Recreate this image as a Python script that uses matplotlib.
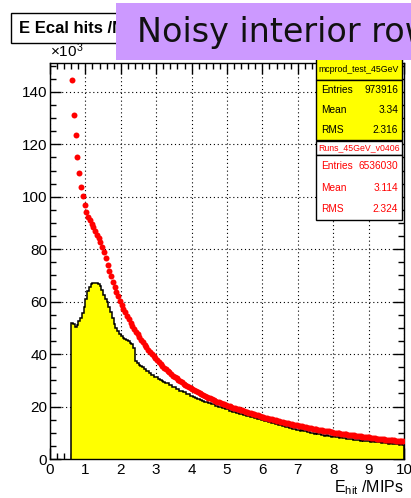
import numpy as np
import matplotlib.pyplot as plt
from matplotlib.patches import Rectangle
from matplotlib.ticker import MultipleLocator

plt.rcParams['font.family'] = ['Liberation Sans', 'DejaVu Sans']
plt.rcParams['mathtext.fontset'] = 'custom'
plt.rcParams['mathtext.rm'] = 'Liberation Sans'
plt.rcParams['mathtext.it'] = 'Liberation Sans:italic'

# hit energy histogram, 0.05 MIP bins from 0.6 to 10 MIPs, counts in 10^3
bin_lo = 0.6
bin_width = 0.05

# mcprod_test_45GeV
mc_counts = [
    51.9, 51.6, 50.5, 51.2, 52.6, 53.6, 55.7, 57.8, 61.0, 64.0,
    65.5, 66.6, 67.2, 67.1, 67.0, 66.6, 65.8, 64.3, 62.6, 61.2,
    59.8, 58.0, 56.2, 53.8, 51.4, 50.0, 48.8, 47.8, 46.9, 46.2,
    45.8, 45.3, 45.0, 44.4, 44.0, 42.2, 37.4, 36.6, 36.0, 35.4,
    35.1, 34.3, 33.7, 33.4, 32.7, 32.1, 31.9, 31.2, 31.1, 30.4,
    30.2, 29.7, 29.5, 28.9, 28.9, 28.2, 28.1, 27.5, 27.3, 26.8,
    26.6, 26.1, 26.0, 25.4, 25.4, 24.8, 24.7, 24.1, 24.1, 23.5,
    23.4, 23.0, 22.8, 22.4, 22.3, 21.8, 21.8, 21.3, 21.3, 20.8,
    20.8, 20.3, 20.3, 19.8, 19.8, 19.4, 19.3, 18.9, 18.9, 18.4,
    18.4, 18.0, 18.0, 17.5, 17.5, 17.1, 17.1, 16.7, 16.7, 16.3,
    16.3, 15.9, 15.9, 15.5, 15.6, 15.2, 15.2, 14.8, 14.9, 14.5,
    14.5, 14.1, 14.1, 13.7, 13.7, 13.3, 13.3, 12.9, 13.0, 12.6,
    12.6, 12.2, 12.2, 11.8, 11.9, 11.5, 11.5, 11.1, 11.2, 10.8,
    10.9, 10.5, 10.6, 10.2, 10.3, 9.9, 10.0, 9.7, 9.8, 9.4,
    9.5, 9.2, 9.3, 8.9, 9.0, 8.7, 8.8, 8.5, 8.6, 8.3,
    8.4, 8.1, 8.2, 7.9, 8.0, 7.7, 7.8, 7.5, 7.6, 7.3,
    7.4, 7.2, 7.3, 7.0, 7.1, 6.8, 7.0, 6.7, 6.8, 6.5,
    6.7, 6.4, 6.5, 6.3, 6.4, 6.1, 6.3, 6.0, 6.1, 5.9,
    6.0, 5.8, 5.9, 5.6, 5.8, 5.5, 5.7, 5.5,
]

# Runs_45GeV_v0406
data_counts = [
    144.5, 131.0, 123.5, 115.2, 109.0, 103.6, 100.2, 96.7, 94.0, 92.4,
    91.0, 89.6, 88.4, 86.9, 85.6, 84.1, 82.6, 81.0, 78.8, 76.6,
    74.0, 71.8, 69.6, 67.6, 65.6, 63.8, 62.0, 60.3, 58.8, 57.3,
    55.9, 54.5, 53.2, 52.0, 50.8, 49.7, 48.6, 47.5, 46.5, 45.5,
    44.5, 43.5, 42.6, 41.7, 40.8, 40.0, 39.2, 38.4, 37.6, 36.9,
    36.2, 35.5, 34.8, 34.2, 33.6, 33.0, 32.4, 31.8, 31.2, 30.7,
    30.2, 29.7, 29.2, 28.7, 28.3, 27.8, 27.4, 27.0, 26.6, 26.2,
    25.8, 25.4, 25.1, 24.7, 24.4, 24.0, 23.7, 23.4, 23.1, 22.8,
    22.5, 22.2, 21.9, 21.6, 21.4, 21.1, 20.8, 20.6, 20.3, 20.1,
    19.8, 19.6, 19.4, 19.1, 18.9, 18.7, 18.5, 18.2, 18.0, 17.8,
    17.6, 17.4, 17.2, 17.0, 16.8, 16.6, 16.4, 16.2, 16.0, 15.8,
    15.6, 15.4, 15.3, 15.1, 14.9, 14.7, 14.6, 14.4, 14.2, 14.1,
    13.9, 13.8, 13.6, 13.4, 13.3, 13.1, 13.0, 12.8, 12.7, 12.6,
    12.4, 12.3, 12.1, 12.0, 11.9, 11.7, 11.6, 11.5, 11.3, 11.2,
    11.1, 11.0, 10.8, 10.7, 10.6, 10.5, 10.4, 10.3, 10.1, 10.0,
    9.9, 9.8, 9.7, 9.6, 9.5, 9.4, 9.3, 9.2, 9.1, 9.0,
    8.9, 8.8, 8.7, 8.6, 8.5, 8.4, 8.3, 8.3, 8.2, 8.1,
    8.0, 7.9, 7.8, 7.8, 7.7, 7.6, 7.5, 7.4, 7.4, 7.3,
    7.2, 7.1, 7.1, 7.0, 6.9, 6.8, 6.8, 6.7,
]

stat_names = ["Entries", "Mean", "RMS"]
mc_name = "mcprod_test_45GeV"
mc_stats = ["973916", "3.34", "2.316"]
data_name = "Runs_45GeV_v0406"
data_stats = ["6536030", "3.114", "2.324"]

W, H = 411, 498
fig = plt.figure(figsize=(W / 100, H / 100), dpi=100)


def fx(px):
    return px / W


def fy(py):
    return 1 - py / H


ax = fig.add_axes([fx(50), fy(459), fx(354), 396 / H])
edges = bin_lo + bin_width * np.arange(len(mc_counts) + 1)
centers = edges[:-1] + bin_width / 2

ax.stairs(mc_counts, edges, fill=True, color='#ffff00', lw=0, zorder=1)
ax.stairs(mc_counts, edges, baseline=0, color='black', lw=1.1, zorder=2)
ax.plot(centers, data_counts, 'o', color='#ff0000', ms=4.3, mew=0, zorder=3)

ax.set_xlim(0, 10)
ax.set_ylim(0, 151)
ax.set_axisbelow(True)
ax.grid(True, which='major', color='black', ls=(0, (1, 2.5)), lw=0.8)
ax.xaxis.set_major_locator(MultipleLocator(1))
ax.xaxis.set_minor_locator(MultipleLocator(0.2))
ax.yaxis.set_major_locator(MultipleLocator(20))
ax.yaxis.set_minor_locator(MultipleLocator(5))
ax.tick_params(which='both', direction='in', top=True, right=True,
               labelsize=11, width=1, color='black')
ax.tick_params(which='major', length=8)
ax.tick_params(which='minor', length=4)
ax.tick_params(axis='x', pad=3)
ax.tick_params(axis='y', pad=2)
for s in ax.spines.values():
    s.set_linewidth(1)

fig.text(fx(50), fy(57), r"$\times10^{3}$", fontsize=11, ha='left',
         va='baseline')
fig.text(fx(404), fy(492), r"E$_{\rm hit}$ /MIPs", fontsize=11.5,
         ha='right', va='baseline')

# title box, partly hidden by the banner
fig.patches.append(Rectangle((fx(11), fy(43)), fx(140), 30 / H,
                             transform=fig.transFigure, fc='white',
                             ec='black', lw=1, zorder=5))
fig.text(fx(19), fy(33), "E Ecal hits /MIPs", fontsize=12,
         fontweight='bold', ha='left', va='baseline', zorder=6)

# banner
fig.patches.append(Rectangle((fx(116), fy(60)), fx(300), 57 / H,
                             transform=fig.transFigure, fc='#cc99ff',
                             ec='none', zorder=7))
fig.text(fx(137), fy(42), "Noisy interior rows", fontsize=24,
         family='DejaVu Sans', color='#111111', ha='left', va='baseline',
         zorder=8)

# stat boxes
bx0, bx1 = 316, 402


def stat_box(top, title_h, body_h, name, values, face, tcolor):
    fig.patches.append(Rectangle((fx(bx0), fy(top + title_h)), fx(bx1 - bx0),
                                 title_h / H, transform=fig.transFigure,
                                 fc=face, ec='black', lw=1, zorder=5))
    fig.text(fx((bx0 + bx1) / 2), fy(top + title_h / 2), name, fontsize=6.3,
             color=tcolor, ha='center', va='center', zorder=6)
    btop = top + title_h
    fig.patches.append(Rectangle((fx(bx0), fy(btop + body_h)), fx(bx1 - bx0),
                                 body_h / H, transform=fig.transFigure,
                                 fc=face, ec='black', lw=1, zorder=5))
    for i, (lab, val) in enumerate(zip(stat_names, values)):
        yy = btop + body_h * (i + 0.5) / 3
        fig.text(fx(bx0 + 5), fy(yy), lab, fontsize=7.3, color=tcolor,
                 ha='left', va='center', zorder=6)
        fig.text(fx(bx1 - 4), fy(yy), val, fontsize=7.3, color=tcolor,
                 ha='right', va='center', zorder=6)


stat_box(58, 22, 60, mc_name, mc_stats, '#ffff00', 'black')
stat_box(141, 14, 65, data_name, data_stats, 'white', '#ff0000')

fig.savefig("out.png", dpi=100)
